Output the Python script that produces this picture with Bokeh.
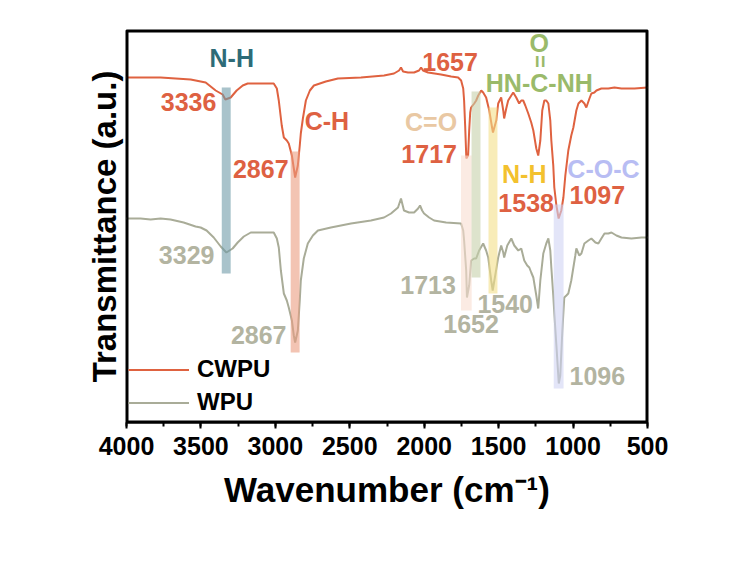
import math
from bokeh.plotting import figure
from bokeh.models import Range1d, SingleIntervalTicker, Legend, LegendItem, Title
from bokeh.core.properties import value
from bokeh.embed import file_html
from bokeh.resources import INLINE

# ---- data (wavenumber in cm-1, transmittance in arbitrary units, offset traces) ----
cwpu_wn = [4000, 3771, 3569, 3468, 3401, 3354, 3336, 3300, 3260, 3219, 3186, 3098, 3011,
           2990, 2977, 2957, 2943, 2923, 2910, 2889, 2876, 2867, 2849, 2836, 2829, 2815,
           2795, 2768, 2741, 2661, 2580, 2425, 2270, 2203, 2169, 2156, 2142, 2109, 2068,
           2035, 2021, 2008, 1974, 1887, 1819, 1772, 1752, 1738, 1732, 1725, 1717, 1705,
           1698, 1691, 1685, 1664, 1651, 1637, 1617, 1604, 1584, 1563, 1543, 1538, 1516,
           1503, 1483, 1469, 1463, 1449, 1436, 1415, 1402, 1382, 1362, 1348, 1335, 1321,
           1301, 1281, 1267, 1247, 1234, 1220, 1207, 1193, 1180, 1166, 1153, 1146, 1133,
           1126, 1112, 1097, 1079, 1065, 1052, 1032, 1012, 998, 978, 964, 944, 924, 911,
           890, 877, 857, 843, 810, 763, 722, 675, 587, 500]
cwpu_t = [345, 345, 343, 340, 332, 328, 323, 325, 332, 337, 339, 339, 339,
          334, 322, 297, 285, 282, 279, 267, 254, 245, 257, 277, 289, 304,
          322, 332, 337, 341, 344, 345, 347, 349, 352, 355, 351, 350, 350,
          352, 355, 352, 350, 348, 346, 345, 342, 334, 322, 297, 264, 267,
          292, 310, 315, 319, 322, 327, 332, 330, 325, 312, 294, 290, 302,
          319, 325, 312, 304, 314, 322, 327, 330, 325, 319, 322, 322, 317,
          309, 300, 292, 274, 267, 282, 312, 322, 322, 319, 302, 282, 257,
          235, 217, 204, 212, 225, 247, 272, 287, 295, 312, 319, 322, 319, 315,
          324, 329, 330, 332, 334, 334, 335, 334, 334, 335]

wpu_wn = [4000, 3906, 3838, 3771, 3704, 3616, 3536, 3502, 3462, 3414, 3367, 3329, 3287,
          3253, 3212, 3165, 3098, 3011, 2990, 2977, 2963, 2943, 2923, 2910, 2889, 2876,
          2867, 2849, 2836, 2829, 2809, 2782, 2748, 2714, 2627, 2492, 2358, 2270, 2223,
          2176, 2156, 2136, 2102, 2068, 2041, 2028, 2014, 2001, 1967, 1934, 1853, 1752,
          1738, 1732, 1718, 1713, 1698, 1685, 1664, 1651, 1631, 1604, 1584, 1570, 1550,
          1540, 1523, 1503, 1483, 1469, 1463, 1442, 1415, 1395, 1368, 1348, 1328, 1308,
          1294, 1281, 1267, 1247, 1234, 1220, 1200, 1180, 1166, 1153, 1146, 1133, 1126,
          1112, 1096, 1086, 1072, 1059, 1045, 1032, 1012, 998, 985, 978, 958, 944, 924,
          897, 877, 850, 830, 810, 789, 763, 742, 709, 675, 608, 540, 500]
wpu_t = [204, 204, 203, 204, 203, 200, 196, 195, 192, 185, 176, 170, 174,
         180, 186, 190, 190, 190, 184, 175, 152, 129, 122, 115, 102, 87,
         80, 92, 122, 142, 164, 179, 187, 192, 195, 199, 202, 205, 209,
         215, 224, 212, 210, 210, 214, 217, 212, 209, 205, 202, 200, 199,
         192, 182, 152, 125, 137, 162, 164, 164, 172, 179, 172, 165, 142,
         132, 147, 165, 177, 170, 165, 177, 184, 177, 172, 174, 162, 157,
         155, 150, 145, 127, 114, 142, 169, 179, 184, 172, 155, 127, 109,
         77, 39, 47, 92, 125, 127, 129, 142, 155, 167, 174, 167, 169, 179,
         182, 184, 180, 179, 184, 189, 189, 190, 187, 185, 184, 185, 185]

# highlighted bands: centre, width (cm-1), lower / upper transmittance
band_center = [3330, 2867, 1717, 1652, 1538, 1097]
band_width = [60, 60, 72, 60, 60, 66]
band_bottom = [149, 70, 112, 145, 129, 34]
band_top = [335, 271, 267, 331, 315, 218]
band_color = ["#709ba8", "#eb9d80", "#f8ded0", "#c6d0aa", "#f3df89", "#d0d4f3"]

# annotations
ann_text = ["N-H", "3336", "C-H", "2867", "1657", "C=O", "1717", "O", "HN-C-NH",
            "N-H", "1538", "C-O-C", "1097",
            "3329", "2867", "1713", "1652", "1540", "1096"]
ann_x = [3293, 3583, 2654, 3098, 1826, 1954, 1967, 1227, 1227,
         1328, 1315, 796, 837,
         3596, 3112, 1974, 1685, 1456, 837]
ann_y = [364.5, 321, 302, 254, 361, 301, 269, 380, 340,
         249, 220, 254, 228,
         168, 88, 138, 99, 119, 47]
RED = "#de6142"
GRAY_T = "#b3b4a1"
ann_color = ["#2e6b77", RED, RED, RED, RED, "#e9c8a3", RED, "#9aba6a", "#9aba6a",
             "#f3c12e", RED, "#b8bdf3", RED,
             GRAY_T, GRAY_T, GRAY_T, GRAY_T, GRAY_T, GRAY_T]

FONT = "Liberation Sans"

xr = Range1d(4000, 500)
yr = Range1d(0, 392)
p = figure(width=752, height=578, output_backend="svg", toolbar_location=None,
           x_range=xr, y_range=yr,
           min_border_left=126, min_border_right=105, min_border_top=30,
           min_border_bottom=156)
p.outline_line_color = "black"
p.outline_line_width = 2
p.xgrid.visible = False
p.ygrid.visible = False

r1 = p.line(cwpu_wn, cwpu_t, line_color="#df6240", line_width=2)
r2 = p.line(wpu_wn, wpu_t, line_color="#a9ac98", line_width=2)

left = [c + w / 2 for c, w in zip(band_center, band_width)]
right = [c - w / 2 for c, w in zip(band_center, band_width)]
p.quad(left=left, right=right, bottom=band_bottom, top=band_top,
       fill_color=band_color, fill_alpha=0.6, line_color=None)

p.text(x=ann_x, y=ann_y, text=ann_text, text_color=ann_color,
       text_font=value(FONT), text_font_style="bold", text_font_size="25px",
       text_align="center", text_baseline="middle")
# vertical double bond of the urea group
p.text(x=[1220], y=[361], text=["="], text_color="#9aba6a", angle=math.pi / 2,
       text_font=value(FONT), text_font_style="bold", text_font_size="22px",
       text_align="center", text_baseline="middle")

# frame edges at the range ends (backup for the outline, half clipped)
p.line(x=[xr.end, xr.start, xr.start, xr.end, xr.end],
       y=[yr.end, yr.end, yr.start, yr.start, yr.end],
       line_color="black", line_width=4)

# x axis
xa = p.xaxis[0]
xa.ticker = SingleIntervalTicker(interval=500, num_minor_ticks=2)
xa.axis_line_width = 2
xa.major_tick_line_width = 2
xa.minor_tick_line_width = 2
xa.major_tick_in = 0
xa.major_tick_out = 6
xa.minor_tick_in = 0
xa.minor_tick_out = 4
xa.major_label_standoff = 8
xa.major_label_text_font = FONT
xa.major_label_text_font_style = "bold"
xa.major_label_text_font_size = "25px"
xa.major_label_text_color = "black"
xa.axis_label = "Wavenumber (cm\u207b\u00b9)"
xa.axis_label_text_font = FONT
xa.axis_label_text_font_style = "bold"
xa.axis_label_text_font_size = "35px"
xa.axis_label_text_color = "black"
xa.axis_label_standoff = 12

# y axis: no ticks; its label is a rotated title on the left
p.yaxis.visible = False
p.add_layout(Title(text="Transmittance (a.u.)", align="center",
                   text_font=FONT, text_font_style="bold",
                   text_font_size="33px", text_color="black", standoff=8),
             "left")

legend = Legend(items=[LegendItem(label="CWPU", renderers=[r1]),
                       LegendItem(label="WPU", renderers=[r2])],
                location=(2, 3.5), padding=0, margin=0, spacing=0,
                glyph_width=61, glyph_height=33, label_height=33,
                label_standoff=8, label_text_font=FONT,
                label_text_font_style="bold", label_text_font_size="24px",
                label_text_color="black", background_fill_alpha=0,
                border_line_alpha=0)
p.add_layout(legend)

open("out.html", "w").write(file_html(p, INLINE))
